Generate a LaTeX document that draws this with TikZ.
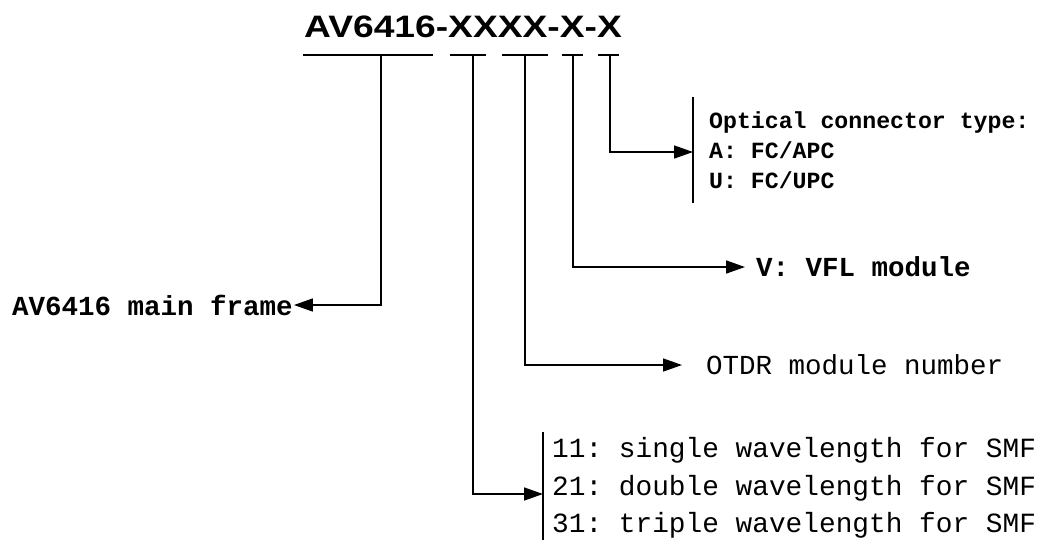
\documentclass[tikz,border=0pt]{standalone}
\usepackage{fontspec}
\setmainfont{Liberation Sans}
\setsansfont{Liberation Sans}
\setmonofont{Liberation Mono}
\usetikzlibrary{arrows.meta}
\begin{document}
\begin{tikzpicture}[x=1pt,y=-1pt,
  line/.style={line width=1.6pt, black},
  bar/.style={line width=1.3pt, black},
  arr/.style={line, -{Triangle[length=19pt,width=13pt]}},
  lblb/.style={inner sep=0pt, font=\fontsize{27.5}{30}\selectfont\ttfamily\bfseries},
  lbl/.style={inner sep=0pt, font=\fontsize{27.5}{30}\selectfont\ttfamily},
]
\useasboundingbox (0,0) rectangle (1040,539);
% title
\node[anchor=base west, inner sep=0pt, font=\fontsize{31}{32}\selectfont\sffamily\bfseries] (title) at (304,37) {\scalebox{1.2}[1]{AV6416-XXXX-X-X}};
% underline segments
\coordinate (s1a) at (303,55); \coordinate (s1b) at (433,55);
\coordinate (s2a) at (450,55); \coordinate (s2b) at (486,55);
\coordinate (s3a) at (502,55); \coordinate (s3b) at (548,55);
\coordinate (s4a) at (562,55); \coordinate (s4b) at (583,55);
\coordinate (s5a) at (598,55); \coordinate (s5b) at (619,55);
\draw[line] (s1a) -- (s1b);
\draw[line] (s2a) -- (s2b);
\draw[line] (s3a) -- (s3b);
\draw[line] (s4a) -- (s4b);
\draw[line] (s5a) -- (s5b);
\coordinate (v1) at (381,55);
\coordinate (v2) at (473,55);
\coordinate (v3) at (525,55);
\coordinate (v4) at (573,55);
\coordinate (v5) at (610,55);
% labels
\node[lblb, anchor=west, inner xsep=1pt] (mf) at (11,305) {AV6416 main frame};
\node[lblb, anchor=west, inner xsep=11pt] (vfl) at (745,267) {V: VFL module};
\node[lbl, anchor=west, inner xsep=24pt] (otdr) at (682,365) {OTDR module number};
\node[anchor=west, inner xsep=16pt, inner ysep=0pt, minimum height=105pt, align=left,
      font=\fontsize{23.2}{30}\selectfont\ttfamily\bfseries] (opt) at (693,150)
      {Optical connector type:\\A: FC/APC\\U: FC/UPC};
\node[anchor=west, inner xsep=9pt, inner ysep=0pt, minimum height=112pt, align=left,
      font=\fontsize{27.8}{37.5}\selectfont\ttfamily] (wl) at (543,488)
      {11: single wavelength for SMF\\21: double wavelength for SMF\\31: triple wavelength for SMF};
\draw[bar] (opt.north west) -- (opt.south west);
\draw[bar] (wl.north west) -- (wl.south west);
% connectors
\draw[arr] (v1) |- (mf.east);
\draw[arr] (v2) |- ([yshift=-6pt]wl.west);
\draw[arr] (v3) |- (otdr.west);
\draw[arr] (v4) |- (vfl.west);
\draw[arr] (v5) |- ([yshift=-2pt]opt.west);
\end{tikzpicture}
\end{document}
